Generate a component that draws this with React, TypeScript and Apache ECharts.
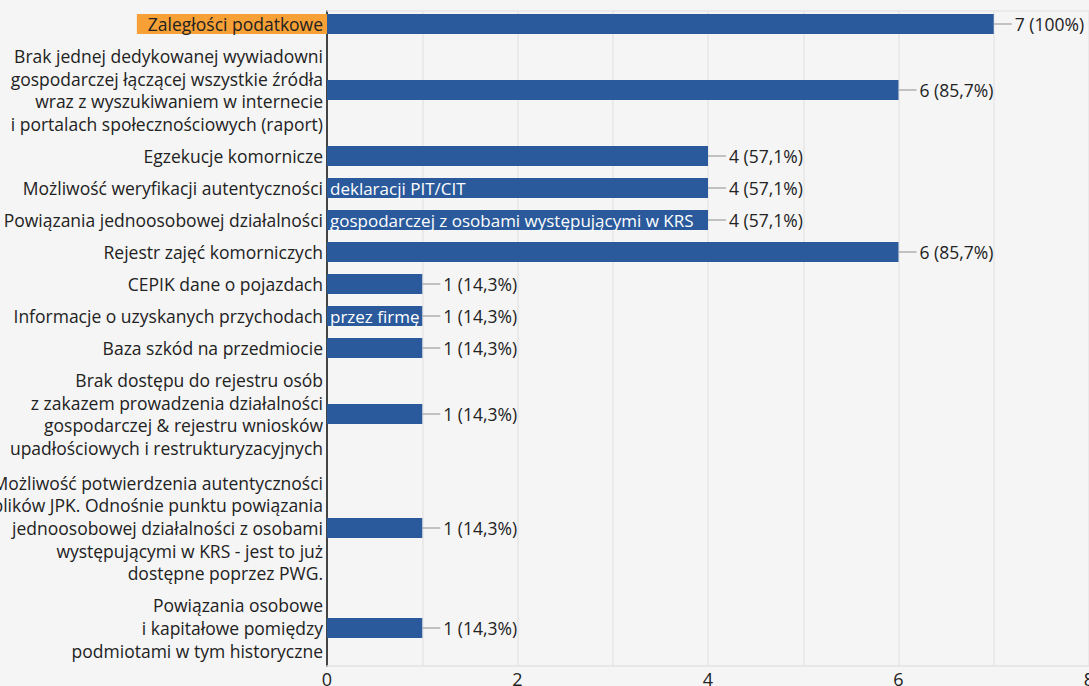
import React, { useEffect, useRef } from "react";
import * as echarts from "echarts";

// ---- data ----
const categoryLines: string[][] = [
  ["Zaległości podatkowe"],
  [
    "Brak jednej dedykowanej wywiadowni",
    "gospodarczej łączącej wszystkie źródła",
    "wraz z wyszukiwaniem w internecie",
    "i portalach społecznościowych (raport)",
  ],
  ["Egzekucje komornicze"],
  ["Możliwość weryfikacji autentyczności"],
  ["Powiązania jednoosobowej działalności"],
  ["Rejestr zajęć komorniczych"],
  ["CEPIK dane o pojazdach"],
  ["Informacje o uzyskanych przychodach"],
  ["Baza szkód na przedmiocie"],
  [
    "Brak dostępu do rejestru osób",
    "z zakazem prowadzenia działalności",
    "gospodarczej & rejestru wniosków",
    "upadłościowych i restrukturyzacyjnych",
  ],
  [
    "Możliwość potwierdzenia autentyczności",
    "plików JPK. Odnośnie punktu powiązania",
    "jednoosobowej działalności z osobami",
    "występującymi w KRS - jest to już",
    "dostępne poprzez PWG.",
  ],
  ["Powiązania osobowe", "i kapitałowe pomiędzy", "podmiotami w tym historyczne"],
];

// label remainder that spills over into the bar (drawn in white)
const categoryOverflow: string[] = [
  "",
  "",
  "",
  "deklaracji PIT/CIT",
  "gospodarczej z osobami występującymi w KRS",
  "",
  "",
  "przez firmę",
  "",
  "",
  "",
  "",
];

const counts: number[] = [7, 6, 4, 4, 4, 6, 1, 1, 1, 1, 1, 1];
const respondents = 7;
const xTicks: number[] = [0, 2, 4, 6, 8];
const highlightedIndex = 0;

// ---- styles ----
const FONT = '"Open Sans", "Noto Sans", sans-serif';
const FONT_SIZE = 17.5;
const LINE_H = 22.6;
const BAR_COLOR = "#2a5a9b";
const TEXT_COLOR = "#222222";
const HIGHLIGHT = "#f7a035";
const BAR_H = 20;

function rowHeight(lines: number): number {
  return lines === 1 ? 32 : 28 * lines - 12;
}

export default function App() {
  const ref = useRef<HTMLDivElement>(null);

  useEffect(() => {
    document.body.style.margin = "0";
    if (!ref.current) return;
    const chart = echarts.init(ref.current, null, { renderer: "svg" });

    // row centres from label line counts
    const centers: number[] = [];
    let acc = 0;
    categoryLines.forEach((lines) => {
      const h = rowHeight(lines.length);
      centers.push(acc + h / 2);
      acc += h;
    });
    const total = acc;

    const data = counts.map((v, i) => [v, centers[i], i]);

    const fmtPct = (v: number) => {
      const p = Math.round((v / respondents) * 1000) / 10;
      return (Number.isInteger(p) ? String(p) : p.toFixed(1).replace(".", ",")) + "%";
    };

    const option: any = {
      animation: false,
      backgroundColor: "#f5f5f5",
      textStyle: { fontFamily: FONT },
      grid: {
        left: 327,
        right: 0,
        top: 11,
        bottom: 20,
        containLabel: false,
        outerBoundsMode: "none",
      },
      xAxis: [
        {
          type: "value",
          min: 0,
          max: 8,
          interval: 1,
          axisLine: { show: true, lineStyle: { color: "#e2e2e2", width: 1.5 } },
          axisTick: { show: false },
          splitLine: { show: true, lineStyle: { color: "#e6e6e6", width: 1.5 } },
          axisLabel: {
            color: TEXT_COLOR,
            fontSize: 18,
            fontFamily: FONT,
            margin: 4,
            showMaxLabel: true,
            formatter: (val: number) => (xTicks.includes(val) ? String(val) : ""),
          },
        },
        {
          type: "value",
          position: "top",
          min: 0,
          max: 8,
          axisLine: { show: true, lineStyle: { color: "#e6e6e6", width: 1.5 } },
          axisTick: { show: false },
          axisLabel: { show: false },
          splitLine: { show: false },
        },
      ],
      yAxis: {
        type: "value",
        inverse: true,
        min: 3,
        max: total + 2,
        axisLine: { show: true, lineStyle: { color: "#444444", width: 2 } },
        axisTick: { show: false },
        axisLabel: { show: false },
        splitLine: { show: false },
      },
      series: [
        {
          type: "custom",
          clip: false,
          encode: { x: 0, y: 1 },
          data,
          renderItem: (params: any, api: any) => {
            const v = api.value(0);
            const yc = api.value(1);
            const idx = api.value(2);
            const p0 = api.coord([0, yc]);
            const p1 = api.coord([v, yc]);
            const lines = categoryLines[idx];
            const n = lines.length;
            const children: any[] = [];
            children.push({
              type: "rect",
              shape: { x: p0[0], y: p0[1] - BAR_H / 2, width: p1[0] - p0[0], height: BAR_H },
              style: { fill: BAR_COLOR },
            });
            children.push({
              type: "line",
              shape: { x1: p1[0], y1: p1[1], x2: p1[0] + 18, y2: p1[1] },
              style: { stroke: "#9e9e9e", lineWidth: 1.2 },
            });
            children.push({
              type: "text",
              x: p1[0] + 21,
              y: p1[1],
              style: {
                text: `${v} (${fmtPct(v)})`,
                fill: TEXT_COLOR,
                fontFamily: FONT,
                fontSize: FONT_SIZE,
                align: "left",
                verticalAlign: "middle",
              },
            });
            lines.forEach((line, k) => {
              const y = p0[1] + (k - (n - 1) / 2) * LINE_H;
              const hl = idx === highlightedIndex;
              children.push({
                type: "text",
                x: p0[0] - (hl ? 0 : 4),
                y,
                style: {
                  text: line,
                  fill: TEXT_COLOR,
                  fontFamily: FONT,
                  fontSize: FONT_SIZE,
                  align: "right",
                  verticalAlign: "middle",
                  lineHeight: BAR_H,
                  backgroundColor: hl ? HIGHLIGHT : undefined,
                  padding: hl ? [0, 4, 0, 11] : 0,
                },
              });
            });
            const ov = categoryOverflow[idx];
            if (ov) {
              children.push({
                type: "text",
                x: p0[0] + 3,
                y: p0[1],
                style: {
                  text: ov,
                  fill: "#ffffff",
                  fontFamily: FONT,
                  fontSize: FONT_SIZE - 0.5,
                  align: "left",
                  verticalAlign: "middle",
                },
              });
            }
            return { type: "group", children };
          },
        },
      ],
    };

    chart.setOption(option);
    return () => chart.dispose();
  }, []);

  return <div ref={ref} style={{ width: 1089, height: 686 }} />;
}
